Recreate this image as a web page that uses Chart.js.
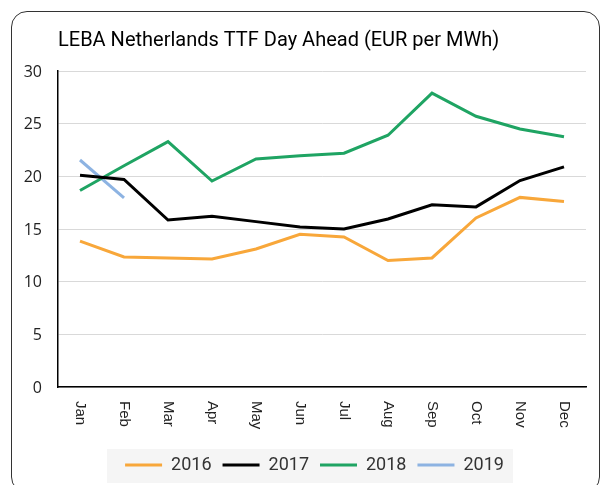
<!DOCTYPE html>
<html>
<head>
<meta charset="utf-8">
<script src="https://cdn.jsdelivr.net/npm/chart.js@4.4.1/dist/chart.umd.min.js"></script>
<style>
  html, body { margin: 0; padding: 0; background: #fff; overflow: hidden; }
  #wrap { position: relative; width: 602px; height: 485px; }
  #frame {
    position: absolute; left: 11px; top: 10.5px; width: 587px; height: 480px;
    border: 1.5px solid #333; border-radius: 16px; pointer-events: none;
  }
</style>
</head>
<body>
<div id="wrap">
  <canvas id="myChart" width="602" height="485"></canvas>
  <div id="frame"></div>
</div>
<script>
// data
var months = ['Jan','Feb','Mar','Apr','May','Jun','Jul','Aug','Sep','Oct','Nov','Dec'];
var y2016 = [13.85, 12.35, 12.25, 12.15, 13.1, 14.5, 14.25, 12.0, 12.25, 16.05, 18.0, 17.6];
var y2017 = [20.1, 19.7, 15.85, 16.2, 15.7, 15.2, 15.0, 15.95, 17.3, 17.1, 19.6, 20.9];
var y2018 = [18.65, 21.0, 23.3, 19.55, 21.65, 21.95, 22.2, 23.9, 27.9, 25.7, 24.5, 23.75];
var y2019 = [21.55, 17.95];
var yTicks = [0, 5, 10, 15, 20, 25, 30];
var title = 'LEBA Netherlands TTF Day Ahead (EUR per MWh)';

var colors = { '2016': '#f8a73a', '2017': '#000000', '2018': '#1fa463', '2019': '#8db3e2' };

function series(label, data) {
    return {
        label: label,
        data: data,
        borderColor: colors[label],
        backgroundColor: colors[label],
        borderWidth: 3,
        pointRadius: 0,
        tension: 0,
        fill: false
    };
}

// gray box behind legend, title, y labels and top-to-bottom month labels
var extras = {
    id: 'extras',
    beforeDraw: function(chart) {
        var hb = chart.legend.legendHitBoxes;
        if (!hb || !hb.length) return;
        var ctx = chart.ctx;
        var last = hb[hb.length - 1];
        var cy = hb[0].top + hb[0].height / 2;
        ctx.save();
        ctx.fillStyle = '#f5f5f5';
        ctx.fillRect(hb[0].left - 18, cy - 16, last.left + last.width + 9 - (hb[0].left - 18), 34);
        ctx.restore();
    },
    afterDraw: function(chart) {
        var ctx = chart.ctx;
        var area = chart.chartArea;
        ctx.save();
        ctx.fillStyle = '#000';
        ctx.font = '20px Roboto';
        ctx.textAlign = 'left';
        ctx.textBaseline = 'middle';
        ctx.fillText(title, area.left, 41);

        // y tick labels
        var ys = chart.scales.y;
        ctx.fillStyle = '#222';
        ctx.font = '16px "Open Sans"';
        ctx.textAlign = 'right';
        yTicks.forEach(function(v) {
            ctx.fillText(String(v), area.left - 16, ys.getPixelForValue(v) + 1);
        });

        // month labels, reading top to bottom
        var xs = chart.scales.x;
        ctx.fillStyle = '#222';
        ctx.font = '15px "Liberation Sans"';
        months.forEach(function(m, i) {
            ctx.save();
            ctx.translate(xs.getPixelForValue(i), area.bottom + 14);
            ctx.rotate(Math.PI / 2);
            ctx.textAlign = 'left';
            ctx.textBaseline = 'middle';
            ctx.fillText(m, 0, 0);
            ctx.restore();
        });
        ctx.restore();
    }
};

var ctx = document.getElementById('myChart').getContext('2d');
var myChart = new Chart(ctx, {
    type: 'line',
    data: {
        labels: months,
        datasets: [
            series('2016', y2016),
            series('2017', y2017),
            series('2018', y2018),
            series('2019', y2019)
        ]
    },
    options: {
        responsive: false,
        animation: false,
        layout: { padding: { top: 71, left: 43, right: 16, bottom: 1 } },
        scales: {
            x: {
                offset: true,
                grid: { display: false, drawTicks: false },
                border: { color: '#000', width: 1.5 },
                ticks: { display: false },
                afterFit: function(s) { s.height = 58; }
            },
            y: {
                min: yTicks[0],
                max: yTicks[yTicks.length - 1],
                grid: { color: '#d9d9d9', lineWidth: 1, drawTicks: false },
                border: { color: '#000', width: 1.5 },
                ticks: {
                    display: false,
                    stepSize: yTicks[1] - yTicks[0]
                },
                afterFit: function(s) { s.width = 15; }
            }
        },
        plugins: {
            title: { display: false },
            tooltip: { enabled: false },
            legend: {
                position: 'bottom',
                labels: {
                    boxWidth: 37,
                    boxHeight: 3,
                    padding: 11,
                    color: '#333',
                    font: { family: 'Roboto', size: 18 },
                    generateLabels: function(chart) {
                        return chart.data.datasets.map(function(ds, i) {
                            return {
                                text: ds.label,
                                fillStyle: ds.borderColor,
                                strokeStyle: ds.borderColor,
                                lineWidth: 0,
                                fontColor: '#333',
                                hidden: false,
                                datasetIndex: i
                            };
                        });
                    }
                }
            }
        }
    },
    plugins: [extras]
});
</script>
</body>
</html>
